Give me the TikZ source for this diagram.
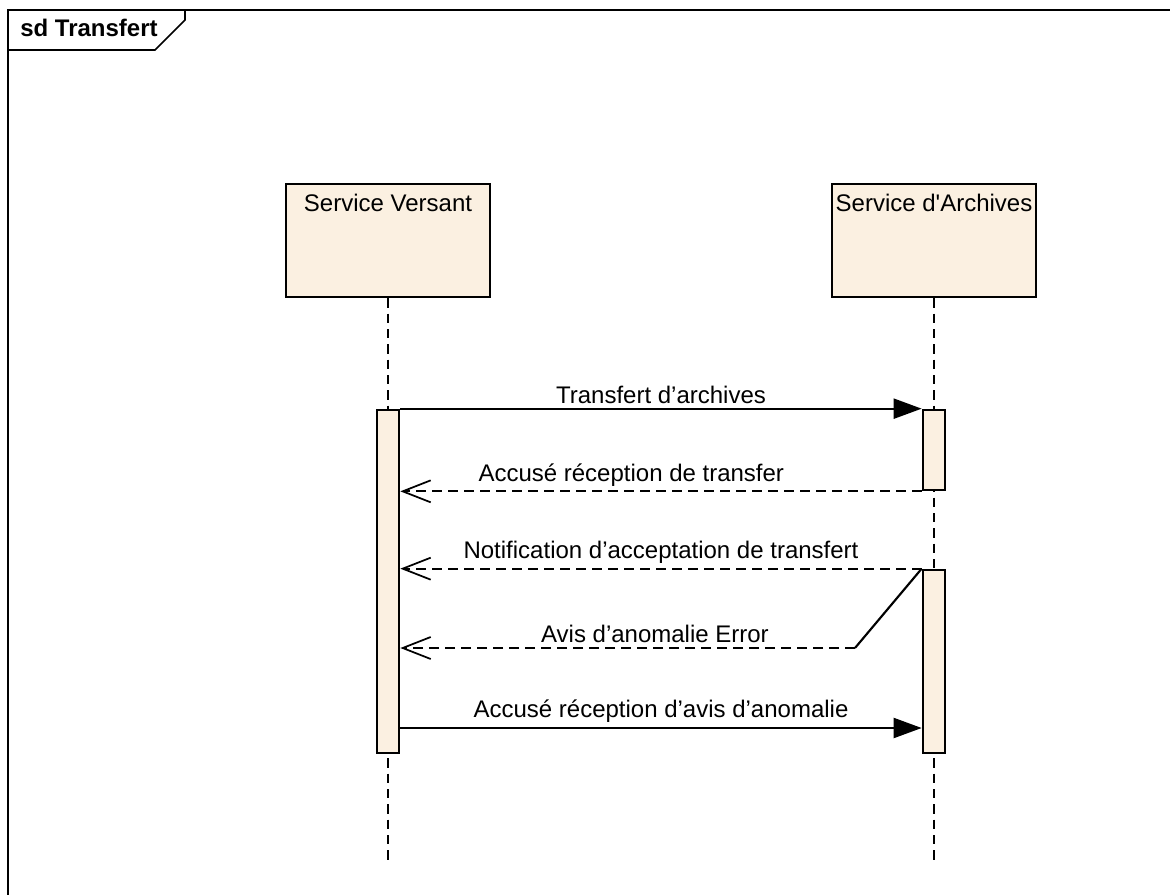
\documentclass[tikz,border=0pt]{standalone}
\usepackage{fontspec}
\setmainfont{Liberation Sans}
\usepackage{xcolor}
\usetikzlibrary{arrows.meta}

\definecolor{headfill}{RGB}{251,240,225}
\newcommand{\seqfont}{\fontsize{18}{21}\selectfont}

\begin{document}
\begin{tikzpicture}[x=0.75pt,y=0.75pt,yscale=-1,xscale=1,
  font=\seqfont,
  lifehead/.style={draw, line width=2pt, fill=headfill, inner sep=0pt, minimum width=153pt, minimum height=84.75pt},
  actbar/.style={draw, line width=2pt, fill=headfill, inner sep=0pt, minimum width=16.5pt},
  lifeline/.style={line width=1.5pt, dash pattern=on 7pt off 4.5pt},
  syncmsg/.style={line width=1.6pt, -{Triangle[length=21pt,width=15pt]}},
  replymsg/.style={line width=1.6pt, dash pattern=on 7.5pt off 4.5pt, -{Straight Barb[length=21pt,width=16.5pt,line width=1.3pt]}},
  msglabel/.style={above, inner sep=3pt}]
\useasboundingbox (0,0) rectangle (1170,895);

%Shape: Frame
\draw [line width=1.2pt] (8,895) -- (8,10) -- (1170,10) ;
\draw [line width=1.2pt] (8,50) -- (155,50) -- (185,20) -- (185,10) ;
% Text Node
\node [anchor=base west, inner sep=0pt, font=\seqfont\bfseries] (sdname) at (20,37) {sd Transfert};

%Shape: Lifeline heads
\node [lifehead, label={[anchor=base, yshift=-21.75pt]north:Service Versant}] (versant) at (388,240.5) {};
\node [lifehead, label={[anchor=base, yshift=-21.75pt]north:Service d\textquotesingle Archives}] (archives) at (934,240.5) {};
\coordinate (versantEnd) at (388,862);
\coordinate (archivesEnd) at (934,862);

%Straight Lines: lifelines
\draw [lifeline] (versant.south) -- (versantEnd) ;
\draw [lifeline] (archives.south) -- (archivesEnd) ;

%Shape: Activation bars
\node [actbar, minimum height=257.25pt] (versantAct) at (388,581.5) {};
\node [actbar, minimum height=60pt] (archivesAct) at (934,450) {};
\node [actbar, minimum height=137.25pt] (anomalieAct) at (934,661.5) {};
\coordinate (avisBend) at (855,648);

%Straight Lines: messages
\draw [syncmsg] (versantAct.east |- archivesAct.north) -- (archivesAct.north west)
  node [msglabel, midway] {Transfert d’archives};
\draw [replymsg] (archivesAct.south west) -- (versantAct.east |- archivesAct.south west)
  node [msglabel, pos=0.557] {Accusé réception de transfer};
\draw [replymsg] (anomalieAct.north west) -- (versantAct.east |- anomalieAct.north west)
  node [msglabel, midway] {Notification d’acceptation de transfert};
\draw [line width=1.6pt] (anomalieAct.north west) -- (avisBend) ;
\draw [replymsg] (avisBend) -- (versantAct.east |- avisBend)
  node [msglabel, pos=0.44] {Avis d’anomalie Error};
\draw [syncmsg] (versantAct.east |- 0,728) -- (anomalieAct.west |- 0,728)
  node [msglabel, midway] {Accusé réception d’avis d’anomalie};

\end{tikzpicture}
\end{document}
